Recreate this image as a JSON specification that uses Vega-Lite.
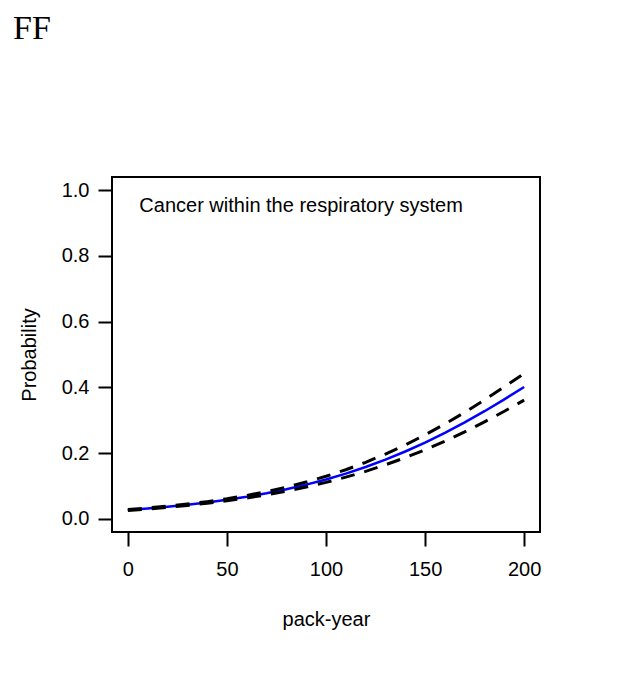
{
  "$schema": "https://vega.github.io/schema/vega-lite/v6.json",
  "autosize": {"type": "none"},
  "width": 428,
  "height": 355,
  "padding": {"left": 112, "top": 177, "right": 81, "bottom": 158},
  "background": "white",
  "title": {
    "text": "FF",
    "font": "Liberation Serif",
    "fontSize": 34,
    "fontWeight": "normal",
    "color": "black",
    "anchor": "start",
    "frame": "group",
    "baseline": "alphabetic",
    "dx": -99,
    "offset": 104
  },
  "config": {
    "view": {"stroke": "black", "strokeWidth": 2},
    "font": "Liberation Sans",
    "axis": {
      "domain": false,
      "grid": false,
      "ticks": true,
      "tickColor": "black",
      "tickWidth": 2,
      "tickSize": 14,
      "labelFont": "Liberation Sans",
      "labelFontSize": 20,
      "labelColor": "black",
      "titleFont": "Liberation Sans",
      "titleFontSize": 20,
      "titleFontWeight": "normal",
      "titleColor": "black"
    }
  },
  "data": {
    "values": [
      {"packyear": 0, "series": "estimate", "p": 0.0270},
      {"packyear": 10, "series": "estimate", "p": 0.0315},
      {"packyear": 20, "series": "estimate", "p": 0.0367},
      {"packyear": 30, "series": "estimate", "p": 0.0428},
      {"packyear": 40, "series": "estimate", "p": 0.0498},
      {"packyear": 50, "series": "estimate", "p": 0.0579},
      {"packyear": 60, "series": "estimate", "p": 0.0672},
      {"packyear": 70, "series": "estimate", "p": 0.0779},
      {"packyear": 80, "series": "estimate", "p": 0.0902},
      {"packyear": 90, "series": "estimate", "p": 0.1042},
      {"packyear": 100, "series": "estimate", "p": 0.1199},
      {"packyear": 110, "series": "estimate", "p": 0.1377},
      {"packyear": 120, "series": "estimate", "p": 0.1577},
      {"packyear": 130, "series": "estimate", "p": 0.1802},
      {"packyear": 140, "series": "estimate", "p": 0.2049},
      {"packyear": 150, "series": "estimate", "p": 0.2320},
      {"packyear": 160, "series": "estimate", "p": 0.2616},
      {"packyear": 170, "series": "estimate", "p": 0.2934},
      {"packyear": 180, "series": "estimate", "p": 0.3275},
      {"packyear": 190, "series": "estimate", "p": 0.3635},
      {"packyear": 200, "series": "estimate", "p": 0.4011},
      {"packyear": 0, "series": "upper", "p": 0.0284},
      {"packyear": 10, "series": "upper", "p": 0.0331},
      {"packyear": 20, "series": "upper", "p": 0.0385},
      {"packyear": 30, "series": "upper", "p": 0.0450},
      {"packyear": 40, "series": "upper", "p": 0.0524},
      {"packyear": 50, "series": "upper", "p": 0.0611},
      {"packyear": 60, "series": "upper", "p": 0.0712},
      {"packyear": 70, "series": "upper", "p": 0.0829},
      {"packyear": 80, "series": "upper", "p": 0.0965},
      {"packyear": 90, "series": "upper", "p": 0.1119},
      {"packyear": 100, "series": "upper", "p": 0.1295},
      {"packyear": 110, "series": "upper", "p": 0.1494},
      {"packyear": 120, "series": "upper", "p": 0.1719},
      {"packyear": 130, "series": "upper", "p": 0.1972},
      {"packyear": 140, "series": "upper", "p": 0.2250},
      {"packyear": 150, "series": "upper", "p": 0.2554},
      {"packyear": 160, "series": "upper", "p": 0.2886},
      {"packyear": 170, "series": "upper", "p": 0.3241},
      {"packyear": 180, "series": "upper", "p": 0.3619},
      {"packyear": 190, "series": "upper", "p": 0.4016},
      {"packyear": 200, "series": "upper", "p": 0.4424},
      {"packyear": 0, "series": "lower", "p": 0.0256},
      {"packyear": 10, "series": "lower", "p": 0.0300},
      {"packyear": 20, "series": "lower", "p": 0.0350},
      {"packyear": 30, "series": "lower", "p": 0.0408},
      {"packyear": 40, "series": "lower", "p": 0.0474},
      {"packyear": 50, "series": "lower", "p": 0.0549},
      {"packyear": 60, "series": "lower", "p": 0.0635},
      {"packyear": 70, "series": "lower", "p": 0.0733},
      {"packyear": 80, "series": "lower", "p": 0.0843},
      {"packyear": 90, "series": "lower", "p": 0.0969},
      {"packyear": 100, "series": "lower", "p": 0.1110},
      {"packyear": 110, "series": "lower", "p": 0.1269},
      {"packyear": 120, "series": "lower", "p": 0.1445},
      {"packyear": 130, "series": "lower", "p": 0.1644},
      {"packyear": 140, "series": "lower", "p": 0.1862},
      {"packyear": 150, "series": "lower", "p": 0.2102},
      {"packyear": 160, "series": "lower", "p": 0.2361},
      {"packyear": 170, "series": "lower", "p": 0.2645},
      {"packyear": 180, "series": "lower", "p": 0.2951},
      {"packyear": 190, "series": "lower", "p": 0.3272},
      {"packyear": 200, "series": "lower", "p": 0.3611}
    ]
  },
  "encoding": {
    "x": {
      "field": "packyear",
      "type": "quantitative",
      "scale": {"domain": [-8, 208], "nice": false, "zero": false},
      "axis": {
        "title": "pack-year",
        "values": [0, 50, 100, 150, 200],
        "labelPadding": 13,
        "titlePadding": 30,
        "labelFlush": false
      }
    },
    "y": {
      "field": "p",
      "type": "quantitative",
      "scale": {"domain": [-0.04, 1.04], "nice": false, "zero": false},
      "axis": {
        "title": "Probability",
        "values": [0, 0.2, 0.4, 0.6, 0.8, 1.0],
        "format": ".1f",
        "labelPadding": 9,
        "titlePadding": 22,
        "labelFlush": false
      }
    }
  },
  "layer": [
    {
      "transform": [{"filter": "datum.series === 'estimate'"}],
      "mark": {"type": "line", "color": "#0000ff", "strokeWidth": 2.5, "clip": true},
      "encoding": {"detail": {"field": "series"}}
    },
    {
      "transform": [{"filter": "datum.series !== 'estimate'"}],
      "mark": {"type": "line", "color": "black", "strokeWidth": 3, "strokeDash": [14, 10], "clip": true},
      "encoding": {"detail": {"field": "series"}}
    },
    {
      "transform": [{"filter": "datum.series === 'estimate' && datum.packyear === 0"}],
      "mark": {"type": "text", "align": "left", "baseline": "alphabetic", "fontSize": 20, "font": "Liberation Sans", "color": "black"},
      "encoding": {
        "x": {"datum": 5.8},
        "y": {"datum": 0.935},
        "text": {"value": "Cancer within the respiratory system"}
      }
    }
  ]
}
